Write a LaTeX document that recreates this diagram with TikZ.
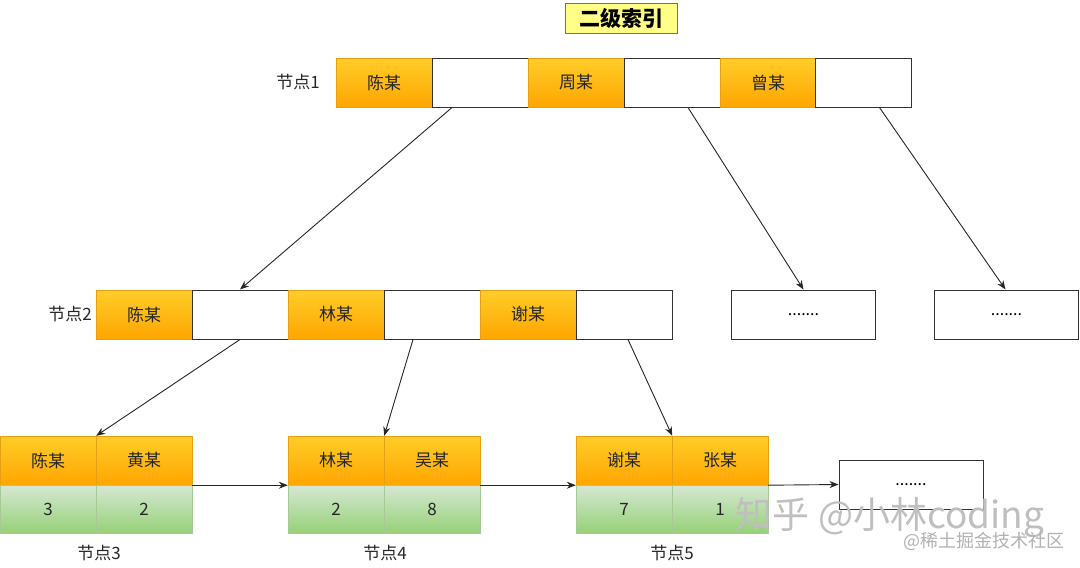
\documentclass[tikz,border=0pt]{standalone}
\usepackage{fontspec}
\setmainfont{Noto Sans CJK SC}
\usetikzlibrary{arrows.meta}

\definecolor{orTop}{RGB}{255,205,40}
\definecolor{orBot}{RGB}{255,165,0}
\definecolor{orLine}{RGB}{230,160,20}
\definecolor{grTop}{RGB}{213,232,212}
\definecolor{grBot}{RGB}{151,208,119}
\definecolor{grLine}{RGB}{130,179,102}
\definecolor{titleFill}{RGB}{255,255,136}
\definecolor{titleLine}{RGB}{130,120,40}

\tikzset{
  keycell/.style={draw=orLine, top color=orTop, bottom color=orBot, minimum width=96pt, minimum height=49pt, inner sep=0pt, font=\fontsize{17}{17}\selectfont, text=black!85},
  ptrcell/.style={draw=black!80, fill=white, line width=1pt, minimum width=96pt, minimum height=49pt, inner sep=0pt},
  valcell/.style={draw=grLine!70, top color=grTop, bottom color=grBot, minimum width=96pt, minimum height=48pt, inner sep=0pt, font=\fontsize{17}{17}\selectfont, text=black!85},
  morebox/.style={draw=black!80, fill=white, line width=1pt, minimum width=144pt, minimum height=49pt, inner sep=0pt, font=\fontsize{16}{16}\selectfont},
  nodelabel/.style={font=\fontsize{17}{17}\selectfont, text=black!85},
  link/.style={-{Stealth[length=9pt,width=7pt]}, line width=0.9pt, draw=black!85}
}

\begin{document}
\begin{tikzpicture}[x=1pt,y=-1pt]
\useasboundingbox (0,0) rectangle (1080,568);

%Title
\node [draw=titleLine, fill=titleFill, line width=1pt, minimum width=112pt, minimum height=30pt, font=\fontsize{21}{21}\selectfont\bfseries] (title) at (621,18) {二级索引};

%Node 1
\node [nodelabel] (lab1) at (298,82) {节点1};
\node [keycell] (n1k1) at (384,82.5) {陈某};
\node [ptrcell] (n1p1) at (480,82.5) {};
\node [keycell] (n1k2) at (576,82.5) {周某};
\node [ptrcell] (n1p2) at (672,82.5) {};
\node [keycell] (n1k3) at (768,82.5) {曾某};
\node [ptrcell] (n1p3) at (863.5,82.5) {};

%Node 2
\node [nodelabel] (lab2) at (70,314) {节点2};
\node [keycell] (n2k1) at (144,314.5) {陈某};
\node [ptrcell] (n2p1) at (240,314.5) {};
\node [keycell] (n2k2) at (336,314.5) {林某};
\node [ptrcell] (n2p2) at (432,314.5) {};
\node [keycell] (n2k3) at (528,314.5) {谢某};
\node [ptrcell] (n2p3) at (624,314.5) {};

%Other nodes on level 2
\node [morebox] (more1) at (803.5,314.5) {.......};
\node [morebox] (more2) at (1006.5,314.5) {.......};

%Leaf: node 3
\node [keycell] (n3k1) at (48,460.5) {陈某};
\node [keycell] (n3k2) at (144,460.5) {黄某};
\node [valcell] (n3v1) at (48,509) {3};
\node [valcell] (n3v2) at (144,509) {2};
\node [nodelabel] (lab3) at (99,553) {节点3};

%Leaf: node 4
\node [keycell] (n4k1) at (336,460.5) {林某};
\node [keycell] (n4k2) at (432,460.5) {吴某};
\node [valcell] (n4v1) at (336,509) {2};
\node [valcell] (n4v2) at (432,509) {8};
\node [nodelabel] (lab4) at (385,553) {节点4};

%Leaf: node 5
\node [keycell] (n5k1) at (624,460.5) {谢某};
\node [keycell] (n5k2) at (720,460.5) {张某};
\node [valcell] (n5v1) at (624,509) {7};
\node [valcell] (n5v2) at (720,509) {1};
\node [nodelabel] (lab5) at (672,553) {节点5};

%Next leaf
\node [morebox] (more3) at (911,484.5) {.......};

%Pointers from node 1
\draw [link] ([xshift=-28pt]n1p1.south) -- (n2p1.north);
\draw [link] ([xshift=16pt]n1p2.south) -- (more1.north);
\draw [link] ([xshift=16pt]n1p3.south) -- ([xshift=-1pt]more2.north);

%Pointers from node 2
\draw [link] (n2p1.south) -- (n3k1.north east);
\draw [link] ([xshift=-19pt]n2p2.south) -- (n4k1.north east);
\draw [link] ([xshift=4pt]n2p3.south) -- (n5k1.north east);

%Leaf links
\draw [link] (n3k2.south east) -- (n4k1.south west);
\draw [link] (n4k2.south east) -- (n5k1.south west);
\draw [link] (n5k2.south east) -- (more3.west);

%Watermarks
\node [text=black!25, font=\fontsize{37}{37}\selectfont] (wm1) at (890,518) {知乎 @小林coding};
\node [text=black!30, font=\fontsize{18}{18}\selectfont] (wm2) at (984,541) {@稀土掘金技术社区};

\end{tikzpicture}
\end{document}
